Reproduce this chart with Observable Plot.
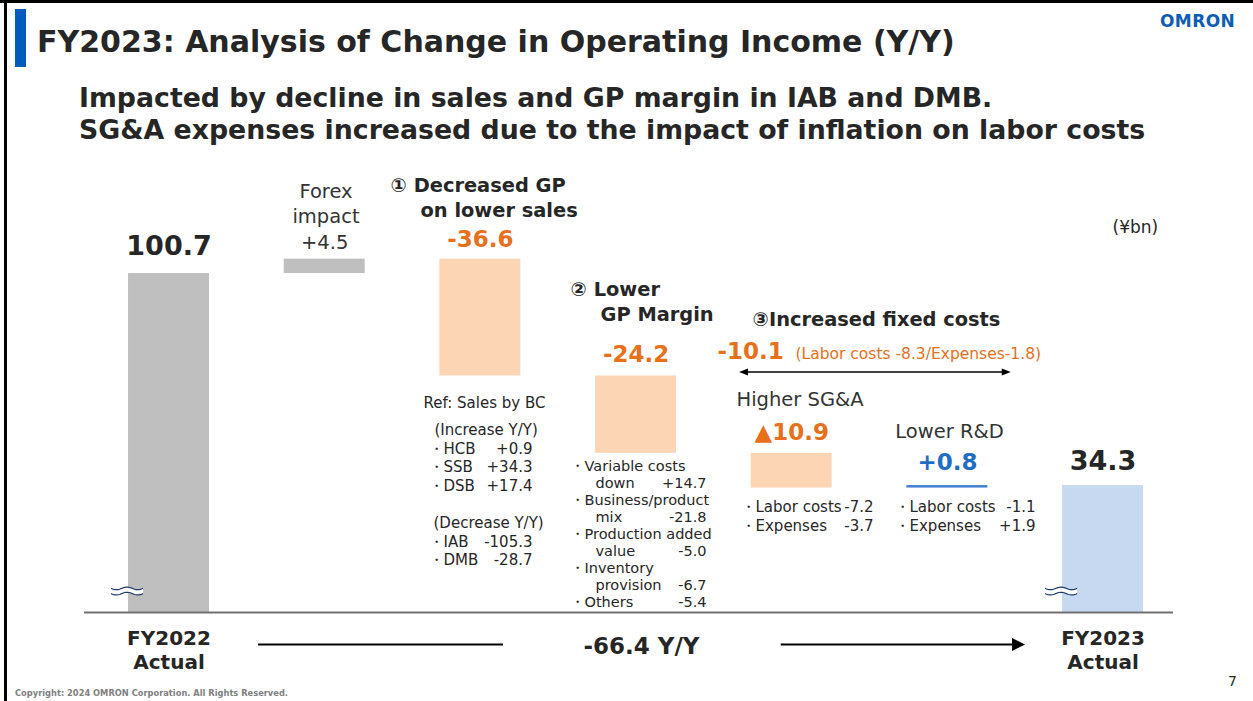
<!DOCTYPE html>
<html><head><meta charset="utf-8">
<script src="https://cdn.jsdelivr.net/npm/d3@7"></script>
<script src="https://cdn.jsdelivr.net/npm/@observablehq/plot@0.6"></script>
<style>
html,body{margin:0;padding:0;background:#fff;}
#slide{position:relative;width:1253px;height:701px;overflow:hidden;background:#fff;font-family:"DejaVu Sans",sans-serif;color:#262626;}
.abs{position:absolute;white-space:nowrap;}
#bt{left:0;top:0;width:1253px;height:3px;background:#000;z-index:5;}
#bl{left:4px;top:0;width:3px;height:701px;background:#000;z-index:5;}
#accent{left:15px;top:9px;width:11px;height:58px;background:#005bbb;}
#title{left:37px;top:26.6px;font-size:30px;line-height:30px;font-weight:bold;color:#262626;}
#logo{left:1160px;top:12.6px;font-size:17px;line-height:17px;font-weight:bold;color:#0f5cb5;letter-spacing:0.4px;}
#sub{left:79px;top:81.8px;font-size:26.75px;line-height:32px;font-weight:bold;color:#262626;}
#chart{left:0;top:160px;}
#copy{left:15px;top:688.1px;font-size:8.3px;line-height:10px;font-weight:bold;color:#808080;}
#pno{left:1228px;top:674.2px;font-size:14px;line-height:14px;color:#262626;}
</style></head><body>
<div id="slide">
  <div id="bt" class="abs"></div>
  <div id="bl" class="abs"></div>
  <div id="accent" class="abs"></div>
  <div id="title" class="abs">FY2023: Analysis of Change in Operating Income (Y/Y)</div>
  <div id="logo" class="abs">OMRON</div>
  <div id="sub" class="abs">Impacted by decline in sales and GP margin in IAB and DMB.<br>SG&amp;A expenses increased due to the impact of inflation on labor costs</div>
  <div id="chart" class="abs"></div>
  <div id="copy" class="abs">Copyright: 2024 OMRON Corporation. All Rights Reserved.</div>
  <div id="pno" class="abs">7</div>
</div>
<script>
// ---------- data ----------
const categories = ["FY2022 Actual", "Forex impact", "Decreased GP on lower sales", "Lower GP margin", "Higher SG&A", "Lower R&D", "FY2023 Actual"];
const changes = [100.7, 4.5, -36.6, -24.2, -10.9, 0.8, 34.3];
const valueLabels = ["100.7", "+4.5", "-36.6", "-24.2", "▲10.9", "+0.8", "34.3"];
const barKinds = ["total", "forex", "down", "down", "down", "up", "final"];
const axisLabels = ["FY2022\nActual", "FY2023\nActual"];
const totalChangeLabel = "-66.4 Y/Y";

// ---------- styles ----------
const ORANGE = "#e8701a", BLUE = "#1e6ec8", INK = "#262626";
const barColors = {total: "#bfbfbf", forex: "#bfbfbf", down: "#fcd5b5", up: "#4683d6", final: "#c6d9f1"};
const textStyles = {
  head: {fontSize: 19.4, fontWeight: "bold", fill: INK},
  lab: {fontSize: 19.5, fontWeight: "normal", fill: "#333333"},
  note: {fontSize: 15, fontWeight: "normal", fill: INK},
  noteS: {fontSize: 14.5, fontWeight: "normal", fill: INK},
  unit: {fontSize: 17, fontWeight: "normal", fill: INK},
  orange: {fontSize: 23, fontWeight: "bold", fill: ORANGE},
  orangeSm: {fontSize: 15.5, fontWeight: "normal", fill: ORANGE},
  big: {fontSize: 27, fontWeight: "bold", fill: INK},
  blue: {fontSize: 23, fontWeight: "bold", fill: BLUE},
  total: {fontSize: 23, fontWeight: "bold", fill: INK}
};
const valueLabelStyle = ["big", "lab", "orange", "orange", "orange", "blue", "big"];
const valueLabelDy = [-19, -10.3, -12.6, -14.5, -12.8, -15.7, -15.7];

// ---------- layout ----------
const W = 1253, H = 520, TOP = 160;
const mL = 84, mR = 80, mT = 0, mB = 68;
const axisFloor = -5.47, axisTop = 136.1;
const xPad = {paddingInner: 0.48, paddingOuter: 0.2377, align: 0.595};

// waterfall rows
let run = 0;
const rows = categories.map((cat, i) => {
  let y1, y2;
  if (barKinds[i] === "total" || barKinds[i] === "final") { y1 = axisFloor; y2 = changes[i]; run = changes[i]; }
  else { y1 = run; y2 = run + changes[i]; run = y2; }
  return {cat, y1, y2, top: Math.max(y1, y2), label: valueLabels[i], kind: barKinds[i], i};
});

// replica of the band scale, only to express annotation offsets relative to category centres
const xb = d3.scaleBand(categories, [mL, W - mR]).paddingInner(xPad.paddingInner).paddingOuter(xPad.paddingOuter).align(xPad.align);
const centre = (i) => xb(categories[i]) + xb.bandwidth() / 2;

// annotations: [category index, page x, page baseline y, anchor, style, text]
const notes = [
  [1, 325.5, 197, "middle", "lab", "Forex"],
  [1, 325.5, 222, "middle", "lab", "impact"],
  [2, 390, 191, "start", "head", "① Decreased GP"],
  [2, 420, 216, "start", "head", "on lower sales"],
  [3, 570, 295, "start", "head", "② Lower"],
  [3, 600, 320, "start", "head", "GP Margin"],
  [4, 752, 325, "start", "head", "③Increased fixed costs"],
  [4, 717, 358, "start", "orange", "-10.1"],
  [4, 795, 358, "start", "orangeSm", "(Labor costs -8.3/Expenses-1.8)"],
  [4, 736, 405, "start", "lab", "Higher SG&A"],
  [5, 949, 437, "middle", "lab", "Lower R&D"],
  [6, 1112, 232, "start", "unit", "(¥bn)"],
  [2, 423, 407, "start", "note", "Ref: Sales by BC"],
  [2, 434, 434, "start", "note", "(Increase Y/Y)"],
  [2, 428, 453, "start", "note", "・HCB"], [2, 532, 453, "end", "note", "+0.9"],
  [2, 428, 471.5, "start", "note", "・SSB"], [2, 532, 471.5, "end", "note", "+34.3"],
  [2, 428, 490, "start", "note", "・DSB"], [2, 532, 490, "end", "note", "+17.4"],
  [2, 433, 527, "start", "note", "(Decrease Y/Y)"],
  [2, 428, 546, "start", "note", "・IAB"], [2, 532, 546, "end", "note", "-105.3"],
  [2, 428, 564.5, "start", "note", "・DMB"], [2, 532, 564.5, "end", "note", "-28.7"],
  [3, 569, 470, "start", "noteS", "・Variable costs"],
  [3, 595, 487, "start", "noteS", "down"], [3, 706, 487, "end", "noteS", "+14.7"],
  [3, 569, 504, "start", "noteS", "・Business/product"],
  [3, 595, 521, "start", "noteS", "mix"], [3, 706, 521, "end", "noteS", "-21.8"],
  [3, 569, 538, "start", "noteS", "・Production added"],
  [3, 595, 555, "start", "noteS", "value"], [3, 706, 555, "end", "noteS", "-5.0"],
  [3, 569, 572, "start", "noteS", "・Inventory"],
  [3, 595, 589, "start", "noteS", "provision"], [3, 706, 589, "end", "noteS", "-6.7"],
  [3, 569, 606, "start", "noteS", "・Others"], [3, 706, 606, "end", "noteS", "-5.4"],
  [4, 740, 511, "start", "note", "・Labor costs"], [4, 873, 511, "end", "note", "-7.2"],
  [4, 740, 530, "start", "note", "・Expenses"], [4, 873, 530, "end", "note", "-3.7"],
  [5, 894, 511, "start", "note", "・Labor costs"], [5, 1035, 511, "end", "note", "-1.1"],
  [5, 894, 530, "start", "note", "・Expenses"], [5, 1035, 530, "end", "note", "+1.9"],
  [3, 641, 653, "middle", "total", totalChangeLabel]
];

function decorations(index, scales) {
  const xs = scales.x, ys = scales.y;
  const bw = xs.bandwidth ? xs.bandwidth() : 81;
  const y0 = ys(axisFloor);
  const g = d3.create("svg:g");
  // axis break marks
  for (const cat of [categories[0], categories[categories.length - 1]]) {
    const bx = xs(cat);
    const x0 = bx - 17, yc = y0 - 21;
    const wave = (off) => d3.range(0, 33).map(k => [x0 + k, yc + off + 1.3 * Math.sin(k / 32 * 3 * Math.PI)]);
    const t = wave(-2.6), b = wave(2.6);
    g.append("path").attr("d", d3.line()(t.concat(b.slice().reverse())) + "Z").attr("fill", "#fff");
    g.append("path").attr("d", d3.line()(t)).attr("fill", "none").attr("stroke", "#1f3a6e").attr("stroke-width", 1.2);
    g.append("path").attr("d", d3.line()(b)).attr("fill", "none").attr("stroke", "#1f3a6e").attr("stroke-width", 1.2);
  }
  // double arrow over fixed costs
  const ax0 = xs(categories[4]) - 11.7, ax1 = xs(categories[5]) + bw + 23.4, ay = y0 - 240;
  g.append("line").attr("x1", ax0 + 6).attr("x2", ax1 - 6).attr("y1", ay).attr("y2", ay).attr("stroke", "#000").attr("stroke-width", 1.4);
  g.append("path").attr("d", `M${ax0},${ay}L${ax0 + 9},${ay - 3.5}L${ax0 + 9},${ay + 3.5}Z`).attr("fill", "#000");
  g.append("path").attr("d", `M${ax1},${ay}L${ax1 - 9},${ay - 3.5}L${ax1 - 9},${ay + 3.5}Z`).attr("fill", "#000");
  // bottom total-change line and arrow
  const c = (xs(categories[0]) + xs(categories[categories.length - 1]) + bw) / 2;
  const by = y0 + 32.5;
  g.append("line").attr("x1", c - 377.5).attr("x2", c - 132.5).attr("y1", by).attr("y2", by).attr("stroke", "#000").attr("stroke-width", 2.2);
  g.append("line").attr("x1", c + 145.2).attr("x2", c + 377).attr("y1", by).attr("y2", by).attr("stroke", "#000").attr("stroke-width", 2.2);
  g.append("path").attr("d", `M${c + 389.5},${by}L${c + 376.5},${by - 6.4}L${c + 376.5},${by + 6.4}Z`).attr("fill", "#000");
  return g.node();
}

const marks = [
  Plot.barY(rows, {x: "cat", y1: "y1", y2: "y2", fill: d => barColors[d.kind]}),
  Plot.ruleY([axisFloor], {stroke: "#707070", strokeWidth: 2}),
  Plot.axisX({ticks: [categories[0], categories[categories.length - 1]], tickSize: 0, tickPadding: 15,
    tickFormat: d => axisLabels[d === categories[0] ? 0 : 1], fontSize: 20, fontWeight: "bold", lineHeight: 1.2, fill: INK, label: null}),
  decorations,
  ...rows.map((r, i) => Plot.text([r], {x: "cat", y: "top", text: "label", dy: valueLabelDy[i], lineAnchor: "bottom", textAnchor: "middle", fontFamily: "DejaVu Sans", ...textStyles[valueLabelStyle[i]]})),
  ...notes.map(([ci, px, py, anchor, st, text]) => Plot.text([{cat: categories[ci], text}], {
    x: "cat", frameAnchor: "top", text: "text", dx: px - centre(ci), dy: py - TOP, lineAnchor: "bottom", textAnchor: anchor, fontFamily: "DejaVu Sans", ...textStyles[st]}))
];

const chart = Plot.plot({
  width: W, height: H, marginLeft: mL, marginRight: mR, marginTop: mT, marginBottom: mB,
  x: {type: "band", domain: categories, round: false, ...xPad},
  y: {domain: [axisFloor, axisTop], axis: null},
  color: {type: "identity"},
  style: {fontFamily: "DejaVu Sans", background: "transparent", color: INK, overflow: "visible"},
  marks
});
document.getElementById("chart").appendChild(chart);
</script>
</body></html>
